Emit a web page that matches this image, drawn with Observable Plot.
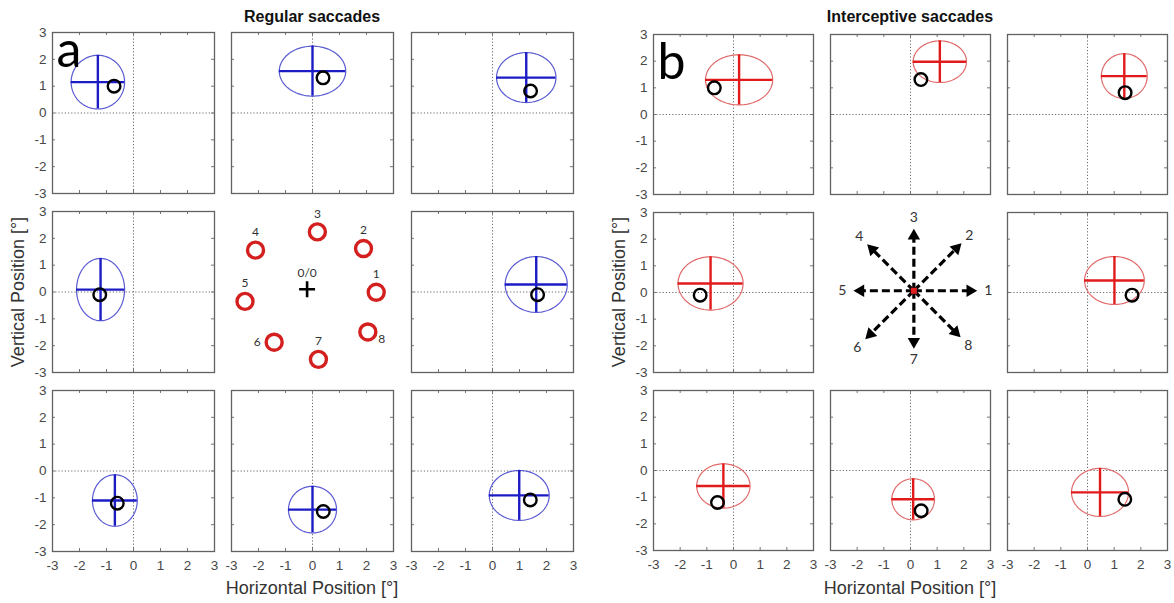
<!DOCTYPE html>
<html>
<head>
<meta charset="utf-8">
<script src="https://cdn.jsdelivr.net/npm/d3@7"></script>
<script src="https://cdn.jsdelivr.net/npm/@observablehq/plot@0.6"></script>
<style>
  body { margin: 0; background: #fff; }
  #fig { position: relative; width: 1174px; height: 603px; overflow: hidden;
         font-family: "Liberation Sans", Arial, sans-serif; color: #333; }
  .cell { position: absolute; }
  .cell svg { display: block; max-width: none; overflow: visible; }
  .txt { position: absolute; white-space: nowrap; transform: translate(-50%, -50%); }
  .title { font-weight: bold; font-size: 16px; color: #111; }
  .axlabel { font-size: 18px; color: #333; }
</style>
</head>
<body>
<div id="fig"></div>
<script>
// Saccade directions (1 = rightward, counter-clockwise)
const directions = [1, 2, 3, 4, 5, 6, 7, 8];

// Target position at saccade onset per direction [deg]
const targetX = [1.67, 1.41, 0.39, -0.72, -1.25, -0.60, 0.40, 1.40];
const targetY = [-0.10, 0.82, 1.31, 1.00, -0.10, -1.20, -1.51, -1.08];

// Regular saccades: mean endpoint and spread (SD) [deg]
const regularMeanX = [1.62, 1.25, 0.00, -1.32, -1.22, -0.69, 0.00, 0.99];
const regularMeanY = [0.28, 1.32, 1.56, 1.15, 0.09, -1.10, -1.44, -0.91];
const regularSdX = [1.15, 1.10, 1.23, 0.99, 0.89, 0.83, 0.89, 1.11];
const regularSdY = [1.04, 0.93, 0.93, 1.00, 1.16, 0.96, 0.87, 0.93];

// Interceptive saccades: mean endpoint and spread (SD) [deg]
const interMeanX = [1.01, 1.38, 1.10, 0.21, -0.86, -0.38, 0.10, 0.47];
const interMeanY = [0.45, 1.44, 1.98, 1.30, 0.34, -0.58, -1.08, -0.82];
const interSdX = [1.12, 0.86, 1.00, 1.26, 1.22, 1.00, 0.80, 1.07];
const interSdY = [0.90, 0.84, 0.78, 0.94, 1.00, 0.83, 0.77, 0.90];

// Schematic of target locations around fixation (0/0)
const ringX = [2.56, 2.09, 0.38, -1.91, -2.30, -1.22, 0.42, 2.25];
const ringY = [-0.11, 1.52, 2.14, 1.46, -0.45, -1.97, -2.61, -1.59];

// Schematic of target motion directions: angle [deg] and arrow length [deg]
const arrowAngle = [0, 45, 90, 135, 180, 225, 270, 315];
const arrowLength = [2.35, 2.50, 2.31, 2.45, 2.24, 2.55, 2.16, 2.45];

// Axis ticks
const ticks = [-3, -2, -1, 0, 1, 2, 3];

// Grid placement of each direction (row, column) around the centre cell
const gridRow = {1: 1, 2: 0, 3: 0, 4: 0, 5: 1, 6: 2, 7: 2, 8: 2};
const gridCol = {1: 2, 2: 2, 3: 1, 4: 0, 5: 0, 6: 0, 7: 1, 8: 2};

const panels = [
  {
    letter: "a", title: "Regular saccades",
    colX: [52, 231, 411], rowY: [32, 211, 390], w: 162, h: 161,
    mx: regularMeanX, my: regularMeanY, sx: regularSdX, sy: regularSdY,
    ellipse: "#5a5ad2", cross: "#1c1cc4", letterDy: 18
  },
  {
    letter: "b", title: "Interceptive saccades",
    colX: [653, 830, 1007], rowY: [34, 212, 390], w: 160, h: 160,
    mx: interMeanX, my: interMeanY, sx: interSdX, sy: interSdY,
    ellipse: "#e06a6a", cross: "#e11b1b", letterDy: 28
  }
];

const ML = 34, MR = 6, MT = 6, MB = 30;
const fig = document.getElementById("fig");

function place(node, left, top) {
  const div = document.createElement("div");
  div.className = "cell";
  div.style.left = left + "px";
  div.style.top = top + "px";
  div.appendChild(node);
  fig.appendChild(div);
}

function addText(cls, text, cx, cy, rotate) {
  const div = document.createElement("div");
  div.className = "txt " + cls;
  div.textContent = text;
  div.style.left = cx + "px";
  div.style.top = cy + "px";
  if (rotate) div.style.transform = "translate(-50%, -50%) rotate(-90deg)";
  fig.appendChild(div);
}

function basePlot(w, h, xDomain, yDomain, marks) {
  return Plot.plot({
    width: w + ML + MR, height: h + MT + MB,
    marginLeft: ML, marginRight: MR, marginTop: MT, marginBottom: MB,
    x: {domain: xDomain, axis: null, label: null},
    y: {domain: yDomain, axis: null, label: null},
    style: {
      fontFamily: '"Liberation Sans", Arial, sans-serif',
      fontSize: "13.5px", color: "#474747",
      background: "transparent", overflow: "visible"
    },
    marks
  });
}

// One scatter cell: endpoint ellipse (mean ± SD), its axes, and the target
function endpointCell(p, i, row, col) {
  const e = {x: p.mx[i], y: p.my[i], sx: p.sx[i], sy: p.sy[i]};
  const outline = d3.range(0, 361, 3).map((a) => ({
    x: e.x + e.sx * Math.cos(a * Math.PI / 180),
    y: e.y + e.sy * Math.sin(a * Math.PI / 180)
  }));
  const marks = [
    Plot.ruleX([0], {stroke: "#6a6a6a", strokeDasharray: "1.2,2", strokeWidth: 1}),
    Plot.ruleY([0], {stroke: "#6a6a6a", strokeDasharray: "1.2,2", strokeWidth: 1}),
    // inward ticks on all four sides
    Plot.ruleX(ticks, {insetTop: p.h - 3, stroke: "#777"}),
    Plot.ruleX(ticks, {insetBottom: p.h - 3, stroke: "#777"}),
    Plot.ruleY(ticks, {insetRight: p.w - 3, stroke: "#777"}),
    Plot.ruleY(ticks, {insetLeft: p.w - 3, stroke: "#777"}),
    Plot.frame({stroke: "#626262", strokeWidth: 1.3}),
    Plot.line(outline, {x: "x", y: "y", stroke: p.ellipse, strokeWidth: 1.2}),
    Plot.ruleX([e], {x: "x", y1: (d) => d.y - d.sy, y2: (d) => d.y + d.sy, stroke: p.cross, strokeWidth: 2.4}),
    Plot.ruleY([e], {y: "y", x1: (d) => d.x - d.sx, x2: (d) => d.x + d.sx, stroke: p.cross, strokeWidth: 2.4}),
    Plot.dot([{x: targetX[i], y: targetY[i]}], {x: "x", y: "y", r: 6.3, stroke: "#000", strokeWidth: 2.4, fill: "none"})
  ];
  if (col === 0) {
    marks.push(Plot.axisY({anchor: "left", ticks, tickSize: 0, tickPadding: 6, tickFormat: (d) => String(d), label: null}));
  }
  if (row === 2) {
    marks.push(Plot.axisX({anchor: "bottom", ticks, tickSize: 0, tickPadding: 9, tickFormat: (d) => String(d), label: null}));
  }
  if (row === 0 && col === 0) {
    marks.push(Plot.text([p.letter], {
      frameAnchor: "top-left", text: (d) => d, dx: 4, dy: p.letterDy,
      fontFamily: "Lato, 'Open Sans', sans-serif", fontSize: 50, fill: "#000", lineAnchor: "middle", textAnchor: "start"
    }));
  }
  return basePlot(p.w, p.h, [-3, 3], [-3, 3], marks);
}

// Centre cell of panel a: target locations around fixation
function ringCell(p) {
  const ring = directions.map((n, i) => ({n, x: ringX[i], y: ringY[i]}));
  const lab = {fontFamily: "Lato, 'Open Sans', sans-serif", fontSize: 12, fill: "#333", text: (d) => String(d.n), x: "x", y: "y"};
  return basePlot(p.w, p.h, [-2.8, 3.2], [-3.1, 2.9], [
    Plot.dot(ring, {x: "x", y: "y", r: 8, stroke: "#d41f1f", strokeWidth: 3.4, fill: "none"}),
    Plot.text(ring, {...lab, filter: (d) => d.n !== 6 && d.n !== 8, dy: -18}),
    Plot.text(ring, {...lab, filter: (d) => d.n === 6, dx: -17}),
    Plot.text(ring, {...lab, filter: (d) => d.n === 8, dx: 14, dy: 7}),
    Plot.dot([{x: 0, y: 0}], {x: "x", y: "y", symbol: "plus", r: 5.2, stroke: "#000", strokeWidth: 2.6}),
    Plot.text(["0/0"], {x: 0, y: 0, text: (d) => d, dy: -16, fontFamily: "Lato, 'Open Sans', sans-serif", fontSize: 12, fill: "#333"})
  ]);
}

// Centre cell of panel b: target motion directions
function arrowCell(p) {
  const arrows = directions.map((n, i) => {
    const a = arrowAngle[i] * Math.PI / 180;
    return {n, ux: Math.cos(a), uy: Math.sin(a), len: arrowLength[i], angle: arrowAngle[i]};
  });
  return basePlot(p.w, p.h, [-3.1, 2.85], [-3.05, 2.92], [
    Plot.link(arrows, {
      x1: 0, y1: 0,
      x2: (d) => d.ux * (d.len - 0.3), y2: (d) => d.uy * (d.len - 0.3),
      stroke: "#000", strokeWidth: 3.2, strokeDasharray: "8,4"
    }),
    Plot.dot(arrows, {
      x: (d) => d.ux * (d.len - 0.26), y: (d) => d.uy * (d.len - 0.26),
      symbol: "triangle", rotate: (d) => 90 - d.angle, r: 4.6, fill: "#000"
    }),
    Plot.text(arrows, {
      x: (d) => d.ux * (d.len + 0.42), y: (d) => d.uy * (d.len + 0.42),
      text: (d) => String(d.n), fontFamily: "Lato, 'Open Sans', sans-serif", fontSize: 14, fill: "#333"
    }),
    Plot.dot([{x: 0, y: 0}], {x: "x", y: "y", symbol: "square", r: 3.4, fill: "#e02020"})
  ]);
}

panels.forEach((p, k) => {
  directions.forEach((n, i) => {
    const row = gridRow[n], col = gridCol[n];
    place(endpointCell(p, i, row, col), p.colX[col] - ML, p.rowY[row] - MT);
  });
  const centre = k === 0 ? ringCell(p) : arrowCell(p);
  place(centre, p.colX[1] - ML, p.rowY[1] - MT);

  const cx = p.colX[1] + p.w / 2;
  addText("title", p.title, cx, 17);
  addText("axlabel", "Horizontal Position [°]", cx, 588);
  addText("axlabel", "Vertical Position [°]", p.colX[0] - 34, p.rowY[1] + p.h / 2, true);
});
</script>
</body>
</html>
